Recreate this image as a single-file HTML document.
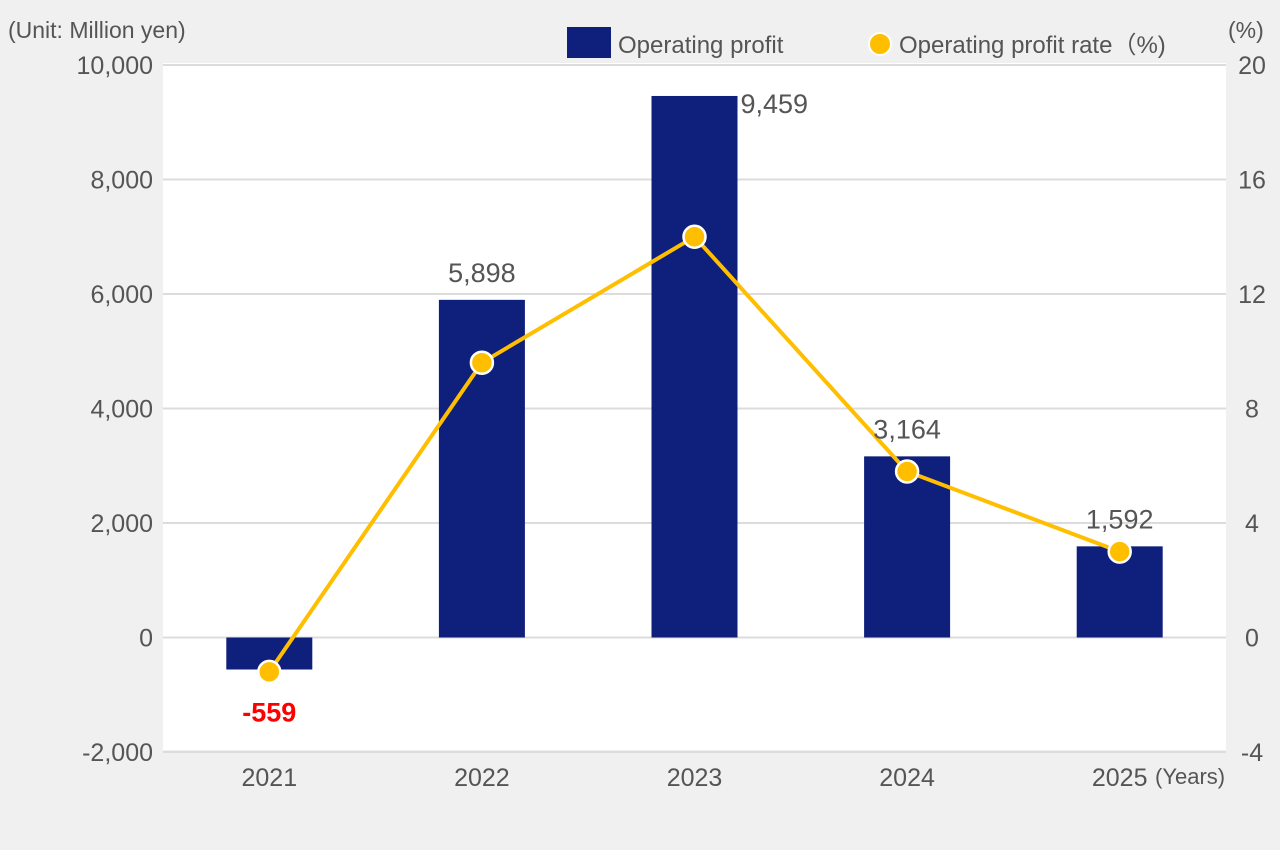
<!DOCTYPE html>
<html><head><meta charset="utf-8"><style>
body{margin:0;background:#f0f0f0;}
svg{display:block;font-family:"Liberation Sans",Arial,sans-serif;}
</style></head><body>
<svg id="chart" width="1280" height="850">
<rect x="0" y="0" width="1280" height="850" fill="#f0f0f0"/>
<rect x="163" y="63" width="1063" height="687" fill="#ffffff"/>
<text x="8" y="38" font-size="23" fill="#555">(Unit: Million yen)</text>
<text x="1228" y="38" font-size="23" fill="#555">(%)</text>
<g>
<rect x="567" y="27" width="44" height="31" fill="#0f1f7c"/>
<text x="618" y="53" font-size="24" fill="#555">Operating profit</text>
<circle cx="880" cy="44" r="11" fill="#ffbf00" stroke="#fff" stroke-width="2"/>
<text x="899" y="53" font-size="24" fill="#555">Operating profit rate（%)</text>
</g>
<g id="grid"></g><g id="bars"></g><g id="line"></g><g id="labels"></g>
<text x="1155" y="784" font-size="22" fill="#555">(Years)</text>
</svg>
<script>
const years=["2021","2022","2023","2024","2025"];
const profit=[-559,5898,9459,3164,1592];
const rate=[-1.2,9.6,14.0,5.8,3.0];
const leftTicks=[-2000,0,2000,4000,6000,8000,10000];
const rightTicks=[-4,0,4,8,12,16,20];
const NS="http://www.w3.org/2000/svg";
const X0=163,X1=1226,Ytop=65,Ybot=752;
const yL=v=>Ybot-(v+2000)/12000*(Ybot-Ytop);
const yR=v=>Ybot-(v+4)/24*(Ybot-Ytop);
const band=(X1-X0)/years.length;
const xC=i=>X0+band*(i+0.5);
function mk(tag,attrs,parent,txt){const e=document.createElementNS(NS,tag);for(const k in attrs)e.setAttribute(k,attrs[k]);if(txt!==undefined)e.textContent=txt;document.getElementById(parent).appendChild(e);return e;}
const fmt=v=>v.toLocaleString("en-US");
leftTicks.forEach((t,i)=>{
 const l=mk("line",{x1:X0,x2:X1,y1:yL(t),y2:yL(t),stroke:"#dcdcdc","stroke-width":2},"grid");
 
 
 const tx=mk("text",{x:153,y:yL(t)+9,"font-size":25,fill:"#555","text-anchor":"end"},"grid",fmt(t));
 
 
});
rightTicks.forEach(t=>{
 const tx=mk("text",{x:1252,y:yR(t)+9,"font-size":25,fill:"#555","text-anchor":"middle"},"grid",String(t));
 
 
});
years.forEach((y,i)=>{
 const v=profit[i],bw=86;
 const top=Math.min(yL(v),yL(0)),h=Math.abs(yL(v)-yL(0));
 const r=mk("rect",{x:xC(i)-bw/2,y:top,width:bw,height:h,fill:"#0f1f7c"},"bars");
 
 
 const xl=mk("text",{x:xC(i),y:786,"font-size":25,fill:"#555","text-anchor":"middle"},"labels",y);
 
 
 let vx=xC(i),vy,anchor="middle",col="#555";
 if(v<0){vy=yL(v)+52;col="#ff0000";}
 else if(i===2){vx=xC(i)+46;vy=yL(v)+17;anchor="start";}
 else vy=yL(v)-18;
 const vl=mk("text",{x:vx,y:vy,"font-size":27,fill:col,"text-anchor":anchor,"font-weight":v<0?"bold":"normal"},"labels",fmt(v));
 
 
});
const pts=rate.map((r,i)=>xC(i)+","+yR(r)).join(" ");
const pl=mk("polyline",{points:pts,fill:"none",stroke:"#ffbf00","stroke-width":4},"line");


rate.forEach((r,i)=>{
 const c=mk("circle",{cx:xC(i),cy:yR(r),r:11,fill:"#ffbf00",stroke:"#fff","stroke-width":2.5},"line");
 
 
});
</script>
</body></html>
